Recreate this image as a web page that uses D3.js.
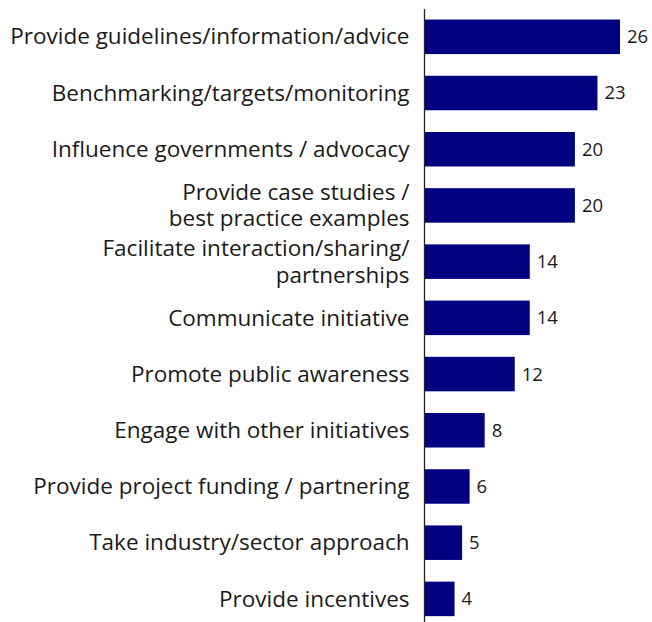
<!DOCTYPE html>
<html>
<head>
<meta charset="utf-8">
<script src="https://cdn.jsdelivr.net/npm/d3@7"></script>
<style>
  html, body { margin: 0; padding: 0; background: #fff; }
  svg { display: block; }
</style>
</head>
<body>
<svg id="chart" width="652" height="622"></svg>
<script>
// Category labels (multi-line labels split with "\n")
const categories = [
  "Provide guidelines/information/advice",
  "Benchmarking/targets/monitoring",
  "Influence governments / advocacy",
  "Provide case studies /\nbest practice examples",
  "Facilitate interaction/sharing/\npartnerships",
  "Communicate initiative",
  "Promote public awareness",
  "Engage with other initiatives",
  "Provide project funding / partnering",
  "Take industry/sector approach",
  "Provide incentives"
];
const values = [26, 23, 20, 20, 14, 14, 12, 8, 6, 5, 4];

const width = 652, height = 622;
const axisX = 424.5;
const svg = d3.select("#chart");

const x = d3.scaleLinear().domain([0, 26]).range([axisX, 620]);
const y = d3.scaleBand()
  .domain(categories)
  .range([8.7, 627])
  .paddingInner(0.386)
  .paddingOuter(0.193);

const font = "'Open Sans', sans-serif";
const labelSize = 22.5;
const lineHeight = 26.5;

// bars
svg.append("g").selectAll("rect")
  .data(categories)
  .join("rect")
  .attr("x", x(0))
  .attr("y", d => y(d))
  .attr("width", (d, i) => x(values[i]) - x(0))
  .attr("height", y.bandwidth())
  .attr("fill", "#000080");

// vertical axis line with category labels
const yAxis = d3.axisLeft(y).tickSize(0).tickPadding(15);
const gAxis = svg.append("g")
  .attr("transform", `translate(${axisX},0)`)
  .call(yAxis);
gAxis.select(".domain").remove();
gAxis.append("line")
  .attr("x1", 0).attr("x2", 0)
  .attr("y1", 9).attr("y2", height)
  .attr("stroke", "#222").attr("stroke-width", 1.3);

gAxis.selectAll(".tick text")
  .attr("font-family", font)
  .attr("font-size", labelSize)
  .attr("fill", "#1a1a1a")
  .each(function(d) {
    const lines = d.split("\n");
    const t = d3.select(this).text(null);
    lines.forEach((ln, k) => {
      t.append("tspan")
        .attr("x", -15)
        .attr("dy", k === 0
          ? (0.34 - (lines.length - 1) * lineHeight / 2 / labelSize) + "em"
          : lineHeight + "px")
        .text(ln);
    });
  })
  .attr("dy", null);

// value labels
svg.append("g").selectAll("text")
  .data(categories)
  .join("text")
  .attr("x", (d, i) => x(values[i]) + 7)
  .attr("y", d => y(d) + y.bandwidth() / 2)
  .attr("dy", "0.35em")
  .attr("font-family", font)
  .attr("font-size", 18.5)
  .attr("fill", "#1a1a1a")
  .text((d, i) => values[i]);
</script>
</body>
</html>
